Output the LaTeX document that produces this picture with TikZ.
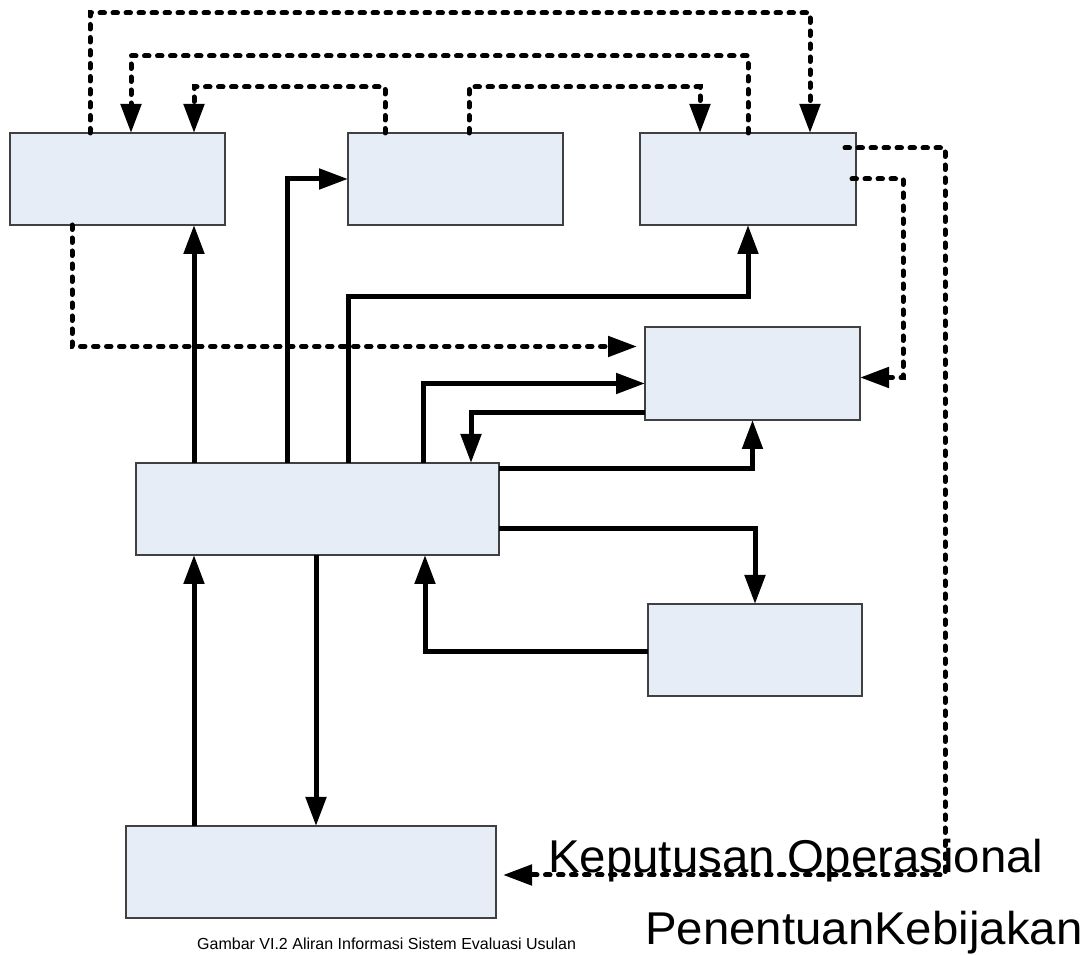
\documentclass[tikz,border=0pt]{standalone}
\usepackage{fontspec}
\setmainfont{Liberation Sans}
\usetikzlibrary{positioning, arrows.meta}
\definecolor{kotak}{RGB}{230,237,247}
\tikzset{
		proses/.style={
			rectangle,
			draw=black!75,
			fill=kotak,
			line width=1.3pt,
			minimum width=215pt,
			minimum height=92pt,
			inner sep=0pt,
			outer sep=0pt
		},
		padat/.style={
			line width=5pt,
			-{Triangle[length=29pt,width=20pt]}
		},
		putus/.style={
			line width=5pt,
			line cap=round,
			dash pattern=on 4.5pt off 8.5pt,
			-{Triangle[length=29pt,width=20pt]}
		},
		judul/.style={
			font=\fontsize{46}{50}\selectfont,
			xscale=1.03,
			inner sep=0pt,
			anchor=base west
		}
	}
\begin{document}
\begin{tikzpicture}[x=1pt, y=1pt]
			\useasboundingbox (0,0) rectangle (1090,955);
			\node (p1) [proses] at (117.5,776) {};
			\node (p2) [proses, right=123pt of p1] {};
			\node (p3) [proses, right=77pt of p2, minimum width=216pt] {};
			\node (p4) [proses, minimum height=93pt] at (752.5,581.5) {};
			\node (pusat) [proses, minimum width=363pt] at (317.5,446) {};
			\node (p5) [proses, minimum width=214pt] at (755,305) {};
			\node (p6) [proses, minimum width=370pt] at (311,83) {};
			% aliran putus-putus
			\draw [putus] ([xshift=80pt]p1.north west) -- ++(0,120) -| ([xshift=170pt]p3.north west);
			\draw [putus] (p3.north) -- ++(0,77) -| ([xshift=121pt]p1.north west);
			\draw [putus] ([xshift=37pt]p2.north west) -- ++(0,46) -| ([xshift=184pt]p1.north west);
			\draw [putus] ([xshift=121pt]p2.north west) -- ++(0,46) -| ([xshift=60pt]p3.north west);
			\draw [putus, shorten >=7pt] ([xshift=-11pt, yshift=31pt]p3.east) -- ++(100,0) |- ([yshift=-3pt]p6.east);
			\draw [putus] ([xshift=-4pt]p3.east) -- ++(51,0) |- ([yshift=-4pt]p4.east);
			\draw [putus, shorten >=8pt] ([xshift=62pt]p1.south west) |- ([yshift=27pt]p4.west);
			% aliran utama
			\draw [padat] ([xshift=58pt]pusat.north west) -- ([xshift=184pt]p1.south west);
			\draw [padat] ([xshift=151pt]pusat.north west) |- (p2.west);
			\draw [padat] ([xshift=212pt]pusat.north west) -- ++(0,166) -| (p3.south);
			\draw [padat] ([xshift=287pt]pusat.north west) |- ([yshift=-10pt]p4.west);
			\draw [padat] ([yshift=7pt]p4.south west) -| ([xshift=335pt]pusat.north west);
			\draw [padat] ([yshift=-6pt]pusat.north east) -| (p4.south);
			\draw [padat] ([yshift=26pt]pusat.south east) -| (p5.north);
			\draw [padat] ([yshift=-2pt]p5.west) -| ([xshift=289pt]pusat.south west);
			\draw [padat] ([xshift=180pt]pusat.south west) -- ([xshift=190pt]p6.north west);
			\draw [padat] ([xshift=68pt]p6.north west) -- ([xshift=58pt]pusat.south west);
			\node (ket) [font=\fontsize{16}{18}\selectfont, inner sep=0pt, anchor=base west] at (197,5)
				{Gambar VI.2 Aliran Informasi Sistem Evaluasi Usulan};
			\node (kep) [judul] at (548,82) {Keputusan Operasional};
			\node (keb) [judul] at (645,10) {PenentuanKebijakan};
\end{tikzpicture}
\end{document}
